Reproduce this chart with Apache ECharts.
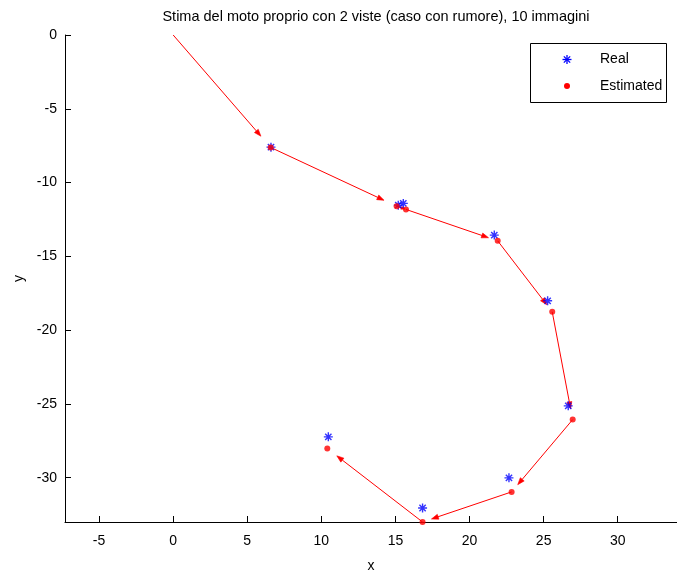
<!DOCTYPE html>
<html>
<head>
<meta charset="utf-8">
<script src="https://cdn.jsdelivr.net/npm/echarts@6/dist/echarts.min.js"></script>
<style>
  html, body { margin: 0; padding: 0; background: #fff; }
  #chart { width: 677px; height: 575px; }
</style>
</head>
<body>
<div id="chart"></div>
<script>
// Camera positions: ground truth and estimate from two-view motion
const realX = [6.60, 15.19, 15.53, 21.67, 25.27, 26.66, 22.66, 16.83, 10.47];
const realY = [-7.60, -11.53, -11.41, -13.56, -18.01, -25.13, -30.01, -32.05, -27.23];
const estX = [6.58, 15.08, 15.71, 21.90, 25.58, 26.96, 22.84, 16.83, 10.40];
const estY = [-7.62, -11.60, -11.82, -13.95, -18.76, -26.06, -30.96, -33.00, -28.02];
const startPos = [0, 0];

const xTicks = [-5, 0, 5, 10, 15, 20, 25, 30];
const yTicks = [-30, -25, -20, -15, -10, -5, 0];

const titleText = 'Stima del moto proprio con 2 viste (caso con rumore), 10 immagini';
const seriesNames = ['Real', 'Estimated'];

// quiver-style auto scaling of the displacement arrows
const QUIVER_SCALE = 0.9;
const FONT = '"Liberation Sans", Arial, Helvetica, sans-serif';
const FS = 14;
const BLUE = '#0000ff';
const RED = '#ff0000';
const STAR = 'path://M0,5 L10,5 M5,0 L5,10 M1.5,1.5 L8.5,8.5 M8.5,1.5 L1.5,8.5';

const realData = realX.map((x, i) => [x, realY[i]]);
const estData = estX.map((x, i) => [x, estY[i]]);

// each arrow runs from the previous estimated position to the next one
const arrowData = [];
let prev = startPos;
estX.forEach((x, i) => {
  arrowData.push([prev[0], prev[1], x, estY[i]]);
  prev = [x, estY[i]];
});

function renderArrow(params, api) {
  const x0 = api.value(0), y0 = api.value(1);
  const x1 = api.value(2), y1 = api.value(3);
  const p0 = api.coord([x0, y0]);
  const p1 = api.coord([x0 + (x1 - x0) * QUIVER_SCALE, y0 + (y1 - y0) * QUIVER_SCALE]);
  const dx = p1[0] - p0[0], dy = p1[1] - p0[1];
  const len = Math.sqrt(dx * dx + dy * dy) || 1;
  const ux = dx / len, uy = dy / len;
  const hl = Math.min(7, len * 0.45), hw = hl * 0.36;
  const bx = p1[0] - ux * hl, by = p1[1] - uy * hl;
  return {
    type: 'group',
    children: [
      {
        type: 'line',
        shape: { x1: p0[0], y1: p0[1], x2: bx, y2: by },
        style: { stroke: RED, lineWidth: 1 }
      },
      {
        type: 'polygon',
        shape: { points: [[p1[0], p1[1]], [bx - uy * hw, by + ux * hw], [bx + uy * hw, by - ux * hw]] },
        style: { fill: RED, stroke: RED, lineWidth: 0.6 }
      }
    ]
  };
}

// legend box drawn as graphic elements: star + dot markers with labels
const LEG = { x: 530.5, y: 43.5, w: 136, h: 59, mx: 567, tx: 600, rows: [59.5, 86] };
function starLines(cx, cy, r) {
  const d = r * 0.7;
  return [[-r, 0, r, 0], [0, -r, 0, r], [-d, -d, d, d], [d, -d, -d, d]].map(s => ({
    type: 'line',
    shape: { x1: cx + s[0], y1: cy + s[1], x2: cx + s[2], y2: cy + s[3] },
    style: { stroke: BLUE, lineWidth: 1.3 }
  }));
}
const legendGraphic = {
  type: 'group',
  z: 100,
  children: [
    { type: 'rect', shape: { x: LEG.x, y: LEG.y, width: LEG.w, height: LEG.h },
      style: { fill: '#fff', stroke: '#000', lineWidth: 1 } },
    ...starLines(LEG.mx, LEG.rows[0], 4.5),
    { type: 'circle', shape: { cx: LEG.mx, cy: LEG.rows[1], r: 3 }, style: { fill: RED } },
    { type: 'text', x: LEG.tx, y: LEG.rows[0],
      style: { text: seriesNames[0], font: FS + 'px ' + FONT, fill: '#000', verticalAlign: 'middle' } },
    { type: 'text', x: LEG.tx, y: LEG.rows[1],
      style: { text: seriesNames[1], font: FS + 'px ' + FONT, fill: '#000', verticalAlign: 'middle' } }
  ]
};

const chart = echarts.init(document.getElementById('chart'), null, { renderer: 'canvas' });
chart.setOption({
  backgroundColor: '#ffffff',
  animation: false,
  textStyle: { fontFamily: FONT },
  title: {
    text: titleText,
    left: 371,
    textAlign: 'center',
    top: 4,
    textStyle: { fontFamily: FONT, fontSize: 14.5, fontWeight: 'normal', color: '#000' }
  },
  grid: { left: 65, right: 0, top: 35, bottom: 53, containLabel: false, outerBoundsMode: 'none' },
  graphic: [legendGraphic],
  xAxis: {
    type: 'value',
    min: -7.3,
    max: 34,
    name: 'x',
    nameLocation: 'middle',
    nameGap: 37,
    nameTextStyle: { fontFamily: FONT, fontSize: FS, color: '#000' },
    axisLine: { onZero: false, lineStyle: { color: '#000', width: 1 } },
    axisTick: { show: true, inside: true, length: 6, customValues: xTicks, lineStyle: { color: '#000' } },
    axisLabel: { customValues: xTicks, margin: 12, fontFamily: FONT, fontSize: FS, color: '#000' },
    splitLine: { show: false }
  },
  yAxis: {
    type: 'value',
    min: -33,
    max: 0,
    name: 'y',
    nameLocation: 'middle',
    nameGap: 38,
    nameRotate: 90,
    nameTextStyle: { fontFamily: FONT, fontSize: FS, color: '#000' },
    axisLine: { onZero: false, lineStyle: { color: '#000', width: 1 } },
    axisTick: { show: true, inside: true, length: 6, customValues: yTicks, lineStyle: { color: '#000' } },
    axisLabel: { customValues: yTicks, margin: 8, fontFamily: FONT, fontSize: FS, color: '#000' },
    splitLine: { show: false }
  },
  series: [
    {
      name: 'arrows',
      type: 'custom',
      renderItem: renderArrow,
      data: arrowData,
      encode: { x: [0, 2], y: [1, 3] },
      clip: false,
      silent: true,
      z: 2
    },
    {
      name: seriesNames[0],
      type: 'scatter',
      data: realData,
      symbol: STAR,
      symbolSize: 9,
      itemStyle: { color: BLUE, borderColor: BLUE, borderWidth: 1.4 },
      z: 3
    },
    {
      name: seriesNames[1],
      type: 'scatter',
      data: estData,
      symbol: 'circle',
      symbolSize: 6,
      itemStyle: { color: RED },
      z: 4
    }
  ]
});
</script>
</body>
</html>
